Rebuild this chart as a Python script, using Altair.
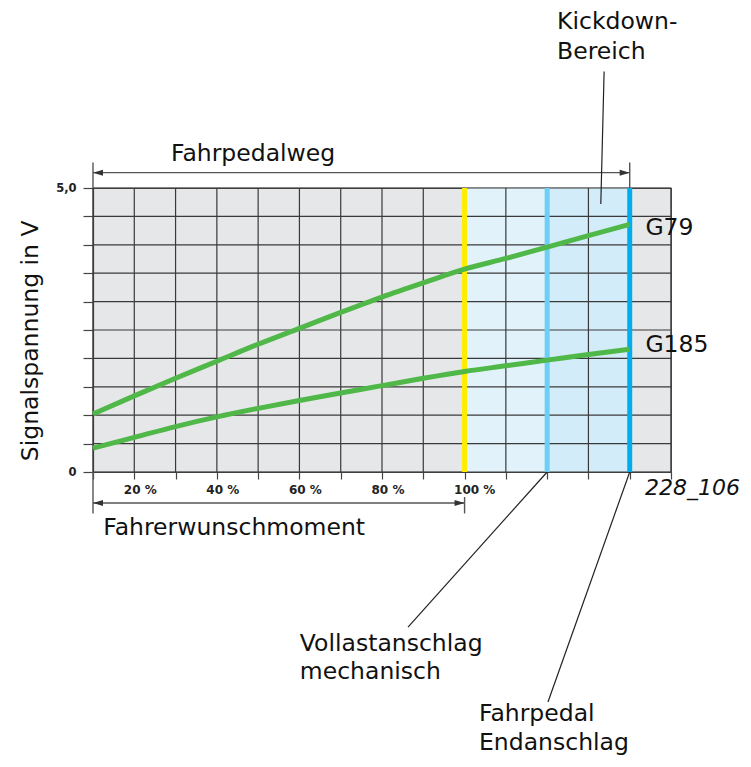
import altair as alt
import pandas as pd

# ---------------- data ----------------
pedal_pct = [10, 20, 30, 40, 50, 60, 70, 80, 90, 100, 110, 120, 130, 140]
g79 = [1.02, 1.34, 1.65, 1.95, 2.25, 2.53, 2.81, 3.08, 3.33, 3.57, 3.76, 3.96, 4.16, 4.36]
g185 = [0.42, 0.61, 0.80, 0.97, 1.12, 1.26, 1.39, 1.52, 1.65, 1.77, 1.87, 1.97, 2.07, 2.16]

x_ticks = [10, 20, 30, 40, 50, 60, 70, 80, 90, 100, 110, 120, 130, 140, 150]
y_ticks = [0, 0.5, 1.0, 1.5, 2.0, 2.5, 3.0, 3.5, 4.0, 4.5, 5.0]
x_label_values = [20, 40, 60, 80, 100]
y_label_values = [0, 5]
y_label_texts = ["0", "5,0"]

zone_start = [100, 120]
zone_end = [120, 140]
zone_colors = ["#e1f2fb", "#d2ecf9"]

marker_pos = [100, 120, 140]
marker_colors = ["#ffed00", "#6dcff6", "#00aeef"]

FONT = "DejaVu Sans"
XMIN, XMAX, YMIN, YMAX = 10, 150, 0, 5

# ---------------- scales / axes ----------------
xs = alt.Scale(domain=[XMIN, XMAX], nice=False, zero=False)
ys = alt.Scale(domain=[YMIN, YMAX], nice=False, zero=False)

x_expr = f"indexof({x_label_values}, datum.value) >= 0 ? datum.value + ' %' : ''"
y_expr = (f"datum.value == {y_label_values[0]} ? '{y_label_texts[0]}' : "
          f"datum.value == {y_label_values[1]} ? '{y_label_texts[1]}' : ''")

xaxis = alt.Axis(values=x_ticks, grid=False, title=None, tickSize=7, tickColor="#444",
                 tickWidth=1.2, domainColor="#444", domainWidth=1.2, labelExpr=x_expr,
                 labelFont=FONT, labelFontSize=12, labelFontWeight="bold", labelColor="#222",
                 labelAlign="left", labelOffset=-11, labelPadding=5, labelBaseline="top",
                 labelOverlap=False, labelFlush=False)
yaxis = alt.Axis(values=y_ticks, grid=False, title=None, tickSize=10, tickColor="#444",
                 tickWidth=1.2, domainColor="#444", domainWidth=1.2, labelExpr=y_expr,
                 labelFont=FONT, labelFontSize=11.5, labelFontWeight="bold", labelColor="#222",
                 labelPadding=7, labelBaseline="middle", labelOverlap=False, labelFlush=False)


def X(f, **kw):
    return alt.X(f, type="quantitative", scale=xs, axis=xaxis, **kw)


def Y(f, **kw):
    return alt.Y(f, type="quantitative", scale=ys, axis=yaxis, **kw)


# ---------------- layers ----------------
zones_df = pd.DataFrame({"x": zone_start, "x2": zone_end, "y": YMIN, "y2": YMAX, "c": zone_colors})
zones = alt.Chart(zones_df).mark_rect().encode(
    x=X("x"), x2="x2", y=Y("y"), y2="y2", color=alt.Color("c:N", scale=None))

vgrid_df = pd.DataFrame({"x": x_ticks, "y": YMIN, "y2": YMAX})
vgrid = alt.Chart(vgrid_df).mark_rule(color="#3a3a3a", strokeWidth=1.2).encode(
    x=X("x"), y=Y("y"), y2="y2")
hgrid_df = pd.DataFrame({"y": y_ticks, "x": XMIN, "x2": XMAX})
hgrid = alt.Chart(hgrid_df).mark_rule(color="#3a3a3a", strokeWidth=1.2).encode(
    y=Y("y"), x=X("x"), x2="x2")

markers_df = pd.DataFrame({"x": marker_pos, "y": YMIN, "y2": YMAX, "c": marker_colors})
markers = alt.Chart(markers_df).mark_rule(strokeWidth=5).encode(
    x=X("x"), y=Y("y"), y2="y2", color=alt.Color("c:N", scale=None))

curves_df = pd.DataFrame({
    "x": pedal_pct * 2,
    "v": g79 + g185,
    "s": ["G79"] * len(g79) + ["G185"] * len(g185),
})
curves = alt.Chart(curves_df).mark_line(color="#4fb848", strokeWidth=5, strokeCap="butt",
                                        interpolate="monotone").encode(
    x=X("x"), y=Y("v"), detail="s:N")

# annotation geometry (in data units)
dim_df = pd.DataFrame({
    "x":  [10, 10, 140, 10, 10, 100],
    "y":  [5.27, 5.0, 5.0, -0.547, 0.0, -0.44],
    "x2": [140, 10, 140, 100, 10, 100],
    "y2": [5.27, 5.45, 5.45, -0.547, -0.73, -0.73],
})
dims = alt.Chart(dim_df).mark_rule(color="#555", strokeWidth=1.4).encode(
    x=X("x"), y=Y("y"), x2="x2", y2="y2")

lead_df = pd.DataFrame({
    "x":  [133.8, 120, 140],
    "y":  [7.05, 0.0, 0.0],
    "x2": [133.0, 86.3, 120.2],
    "y2": [4.72, -2.73, -4.05],
})
leaders = alt.Chart(lead_df).mark_rule(color="#222", strokeWidth=1.2).encode(
    x=X("x"), y=Y("y"), x2="x2", y2="y2")

arrow_left = "M0,0 L1,-0.3 L1,0.3 Z"
arrow_right = "M0,0 L-1,-0.3 L-1,0.3 Z"
al_df = pd.DataFrame({"x": [10, 10], "y": [5.27, -0.547]})
ar_df = pd.DataFrame({"x": [140, 100], "y": [5.27, -0.547]})
arrows_l = alt.Chart(al_df).mark_point(shape=arrow_left, size=400, filled=True, color="#333",
                                       opacity=1, strokeWidth=0).encode(x=X("x"), y=Y("y"))
arrows_r = alt.Chart(ar_df).mark_point(shape=arrow_right, size=400, filled=True, color="#333",
                                       opacity=1, strokeWidth=0).encode(x=X("x"), y=Y("y"))

ann_text = ["Fahrpedalweg", "Fahrerwunschmoment", "Kickdown-", "Bereich", "G79", "G185",
            "Vollastanschlag", "mechanisch", "Fahrpedal", "Endanschlag"]
ann_x = [28.9, 12.5, 122.4, 122.4, 143.8, 143.8, 60.1, 60.1, 103.5, 103.5]
ann_y = [5.467, -1.116, 7.80, 7.27, 4.17, 2.12, -3.144, -3.644, -4.39, -4.89]
ann_df = pd.DataFrame({"t": ann_text, "x": ann_x, "y": ann_y})
texts = alt.Chart(ann_df).mark_text(font=FONT, fontSize=23.5, align="left", baseline="alphabetic",
                                    color="#111").encode(x=X("x"), y=Y("y"), text="t:N")

fig_df = pd.DataFrame({"t": ["228_106"], "x": [143.7], "y": [-0.41]})
fig_id = alt.Chart(fig_df).mark_text(font=FONT, fontSize=22, fontStyle="italic", align="left",
                                     baseline="alphabetic", color="#111").encode(
    x=X("x"), y=Y("y"), text="t:N")

ytitle_df = pd.DataFrame({"t": ["Signalspannung in V"], "x": [-5.0], "y": [2.31]})
ytitle = alt.Chart(ytitle_df).mark_text(font=FONT, fontSize=23.5, angle=270, align="center",
                                        baseline="middle", color="#111").encode(
    x=X("x"), y=Y("y"), text="t:N")

chart = alt.layer(
    zones, vgrid, hgrid, markers, curves, dims, leaders, arrows_l, arrows_r, texts, fig_id, ytitle
).properties(
    width=578, height=284,
    autosize=alt.AutoSizeParams(type="none"),
    padding={"left": 85, "top": 180, "right": 72, "bottom": 287},
    background="white",
).configure_view(
    fill="#e6e7e8", stroke="#444", strokeWidth=1.2
)

chart.save("out.html", embed_options={"renderer": "svg", "actions": False})
